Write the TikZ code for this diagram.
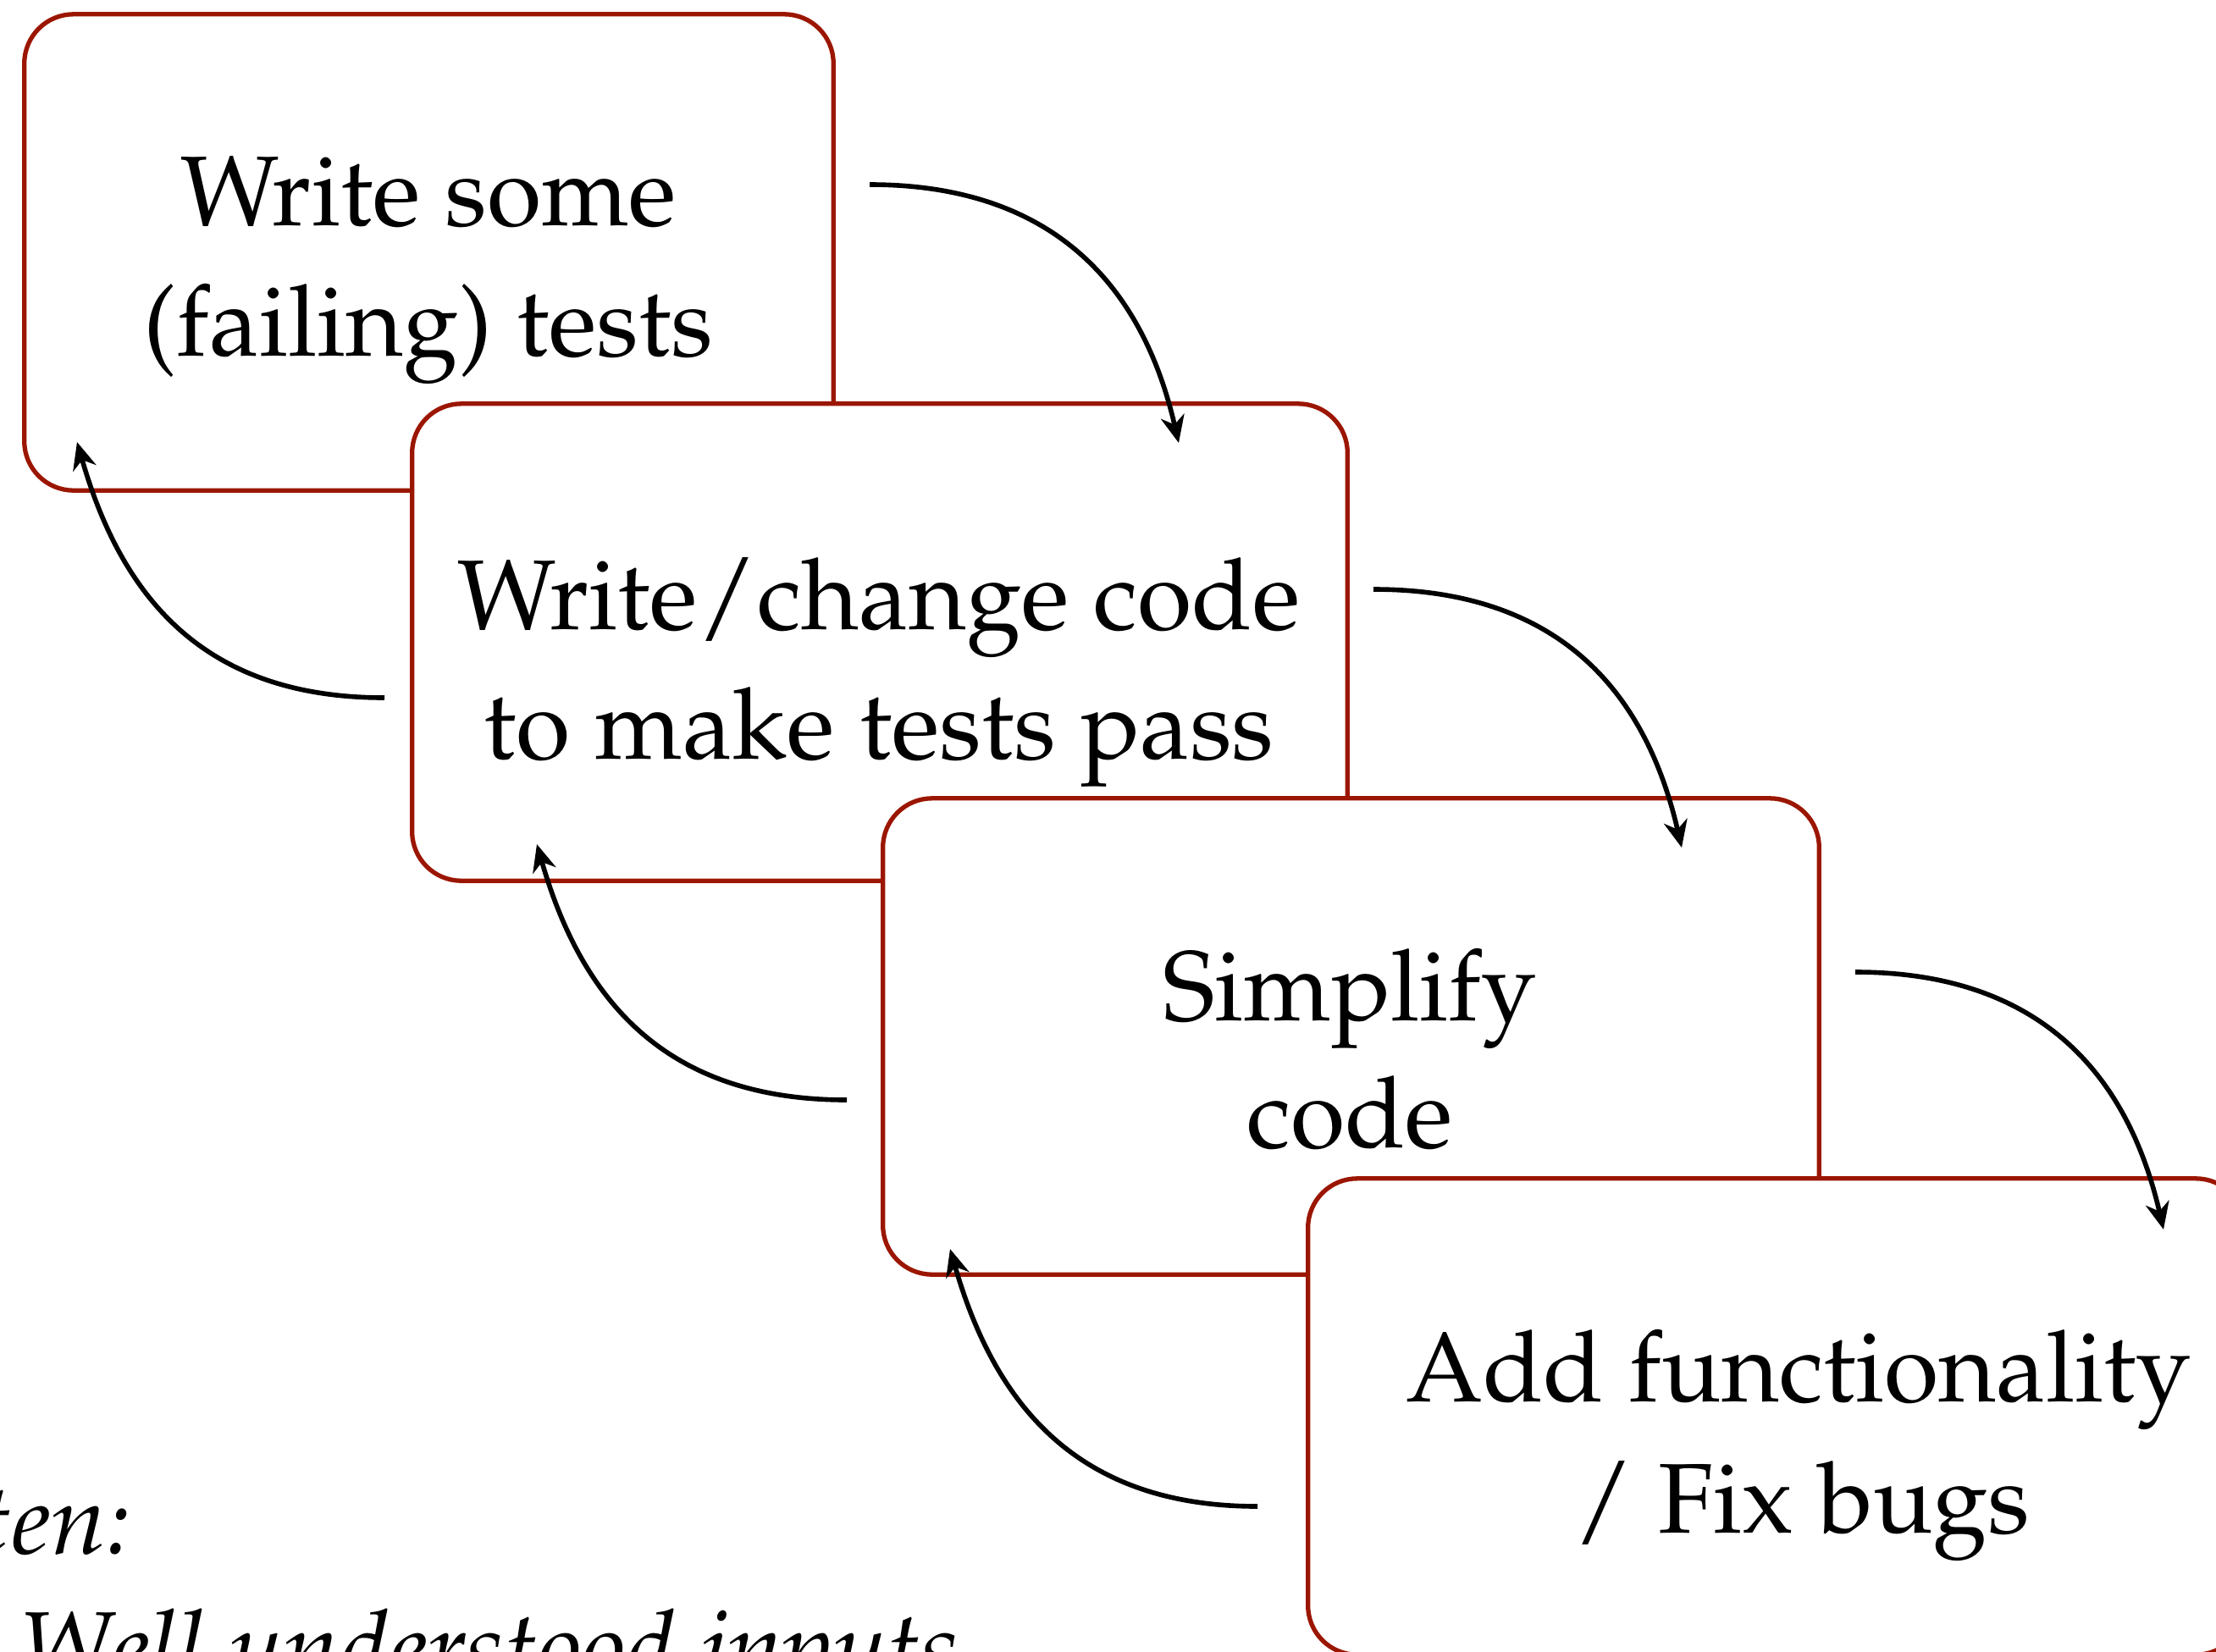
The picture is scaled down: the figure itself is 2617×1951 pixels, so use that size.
\documentclass[tikz,border=0pt]{standalone}
\usepackage[T1]{fontenc}
\usepackage{mathpazo}
\usetikzlibrary{arrows.meta}
\definecolor{boxred}{RGB}{155,22,0}
\tikzset{
  stepbox/.style={draw=boxred, line width=1.5pt, fill=white, rounded corners=0.58cm,
    inner sep=0pt, outer sep=0pt},
  boxtext/.style={anchor=base, inner sep=0pt, font=\fontsize{33.3}{42}\selectfont},
  notetext/.style={anchor=base west, inner sep=0pt, font=\fontsize{33.3}{42}\selectfont\itshape},
  flow/.style={line width=1.6pt, -{Stealth[length=0.32cm, width=0.28cm, inset=0.1cm]}}
}
\begin{document}
\begin{tikzpicture}[x=0.01cm, y=-0.01cm]
\useasboundingbox (0,0) rectangle (2617,1951);
\begin{scope}
\clip (0,0) rectangle (2617,1951);
% boxes
\node[stepbox, minimum width=9.55cm, minimum height=5.62cm] (b1) at (506.5,298) {};
\node[stepbox, minimum width=11.04cm, minimum height=5.63cm] (b2) at (1039,758.5) {};
\node[stepbox, minimum width=11.05cm, minimum height=5.62cm] (b3) at (1595.5,1224) {};
\node[stepbox, minimum width=11.06cm, minimum height=5.62cm] (b4) at (2098,1673) {};
% texts
\node[boxtext] (t1a) at (506,266) {Write some};
\node[boxtext] (t1b) at (506,420) {(failing) tests};
\node[boxtext] (t2a) at (1038,743) {Write/change code};
\node[boxtext] (t2b) at (1038,896) {to make tests pass};
\node[boxtext] (t3a) at (1594,1205) {Simplify};
\node[boxtext] (t3b) at (1594,1355) {code};
\node[boxtext] (t4a) at (2124,1655) {Add functionality};
\node[boxtext] (t4b) at (2128,1810) {/ Fix bugs};
\node[notetext] (n1) at (-25,1835) {ten:};
\node[notetext] (n2) at (22,1985) {Well understood inputs};
% arrow end points
\coordinate (f1s) at (1027,218); \coordinate (f1e) at (1392,523);
\coordinate (f2s) at (1622,696); \coordinate (f2e) at (1986,1001);
\coordinate (f3s) at (2191,1148); \coordinate (f3e) at (2555,1452);
\coordinate (r1s) at (454,824); \coordinate (r1e) at (91,522);
\coordinate (r2s) at (1000,1299); \coordinate (r2e) at (634,997);
\coordinate (r3s) at (1485,1779); \coordinate (r3e) at (1122,1475);
% arrows
\draw[flow] (f1s) to[out=0, in=103, looseness=1.1] (f1e);
\draw[flow] (f2s) to[out=0, in=103, looseness=1.1] (f2e);
\draw[flow] (f3s) to[out=0, in=103, looseness=1.1] (f3e);
\draw[flow] (r1s) to[out=180, in=-74, looseness=1.1] (r1e);
\draw[flow] (r2s) to[out=180, in=-74, looseness=1.1] (r2e);
\draw[flow] (r3s) to[out=180, in=-74, looseness=1.1] (r3e);
\end{scope}
\end{tikzpicture}
\end{document}
